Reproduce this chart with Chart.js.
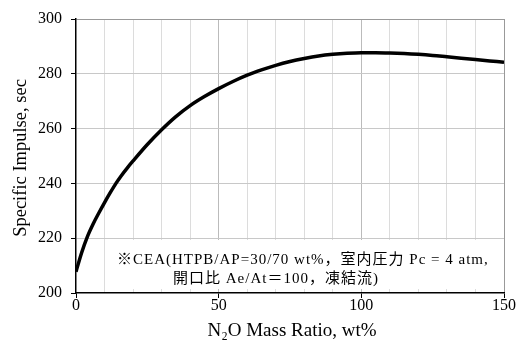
<!DOCTYPE html>
<html>
<head>
<meta charset="utf-8">
<script src="https://cdn.jsdelivr.net/npm/chart.js@4/dist/chart.umd.min.js"></script>
<style>
  html, body { margin: 0; padding: 0; background: #fff; }
  #wrap { width: 519px; height: 342px; }
</style>
</head>
<body>
<div id="wrap"><canvas id="c"></canvas></div>
<script>
// N2O mass ratio (wt%) vs specific impulse (sec)
const n2oRatio = [0, 2, 4, 6, 8, 10, 12, 14, 16, 18, 20, 25, 30, 35, 40, 45, 50, 55, 60, 65, 70, 75, 80, 85, 90, 95, 100, 105, 110, 115, 120, 125, 130, 135, 140, 145, 150];
const isp      = [207.8, 214.8, 220.6, 225.2, 229.2, 233.0, 236.6, 240.0, 243.0, 245.7, 248.2, 254.2, 259.6, 264.4, 268.4, 271.7, 274.6, 277.2, 279.5, 281.4, 283.1, 284.5, 285.6, 286.5, 287.1, 287.5, 287.7, 287.7, 287.6, 287.4, 287.1, 286.7, 286.2, 285.7, 285.2, 284.7, 284.2];
const xLabels = [0, 50, 100, 150];
const yTicks = [200, 220, 240, 260, 280, 300];
const xTitle = 'N₂O Mass Ratio, wt%';
const yTitle = 'Specific Impulse, sec';
const noteLines = ['※CEA(HTPB/AP=30/70 wt%，室内圧力 Pc = 4 atm,', '開口比 Ae/At＝100，凍結流)'];

const serif = '"Liberation Serif", "Times New Roman", "Noto Sans CJK JP", serif';

// 注記ボックス (白背景でグリッドを隠す)
const notePlugin = {
  id: 'note',
  beforeDatasetsDraw(chart) {
    const { ctx, chartArea: a } = chart;
    ctx.save();
    ctx.fillStyle = '#fff';
    ctx.fillRect(107, 240, a.right - 1.5 - 107, 49);
    ctx.fillStyle = '#000';
    ctx.font = '15px ' + serif;
    ctx.letterSpacing = '1px';
    ctx.textBaseline = 'middle';
    ctx.textAlign = 'left';
    ctx.fillText(noteLines[0], 117, 260.5);
    ctx.fillText(noteLines[1], 173, 279);
    ctx.restore();
  }
};

// 軸タイトル
const titlePlugin = {
  id: 'axisTitles',
  afterDraw(chart) {
    const { ctx, chartArea: a } = chart;
    ctx.save();
    ctx.fillStyle = '#000';
    ctx.textAlign = 'center';
    ctx.font = '19px ' + serif;
    ctx.textBaseline = 'middle';
    ctx.fillText(xTitle, (a.left + a.right) / 2 + 2, 331);
    ctx.translate(21, 158);
    ctx.rotate(-Math.PI / 2);
    ctx.font = '18.5px ' + serif;
    ctx.fillText(yTitle, 0, 0);
    ctx.restore();
  }
};

new Chart(document.getElementById('c'), {
  type: 'line',
  data: {
    datasets: [{
      data: n2oRatio.map((x, i) => ({ x, y: isp[i] })),
      borderColor: '#000',
      borderWidth: 3.5,
      pointRadius: 0,
      fill: false,
      cubicInterpolationMode: 'monotone'
    }]
  },
  options: {
    responsive: true,
    maintainAspectRatio: false,
    animation: false,
    events: [],
    layout: { padding: { top: 19, right: 15, left: 0, bottom: 0 } },
    plugins: { legend: { display: false }, tooltip: { enabled: false } },
    scales: {
      x: {
        type: 'linear', min: 0, max: 150,
        afterFit: s => { s.height = 49; },
        ticks: {
          stepSize: 10, autoSkip: false, maxRotation: 0, color: '#000', padding: -2,
          font: { family: serif, size: 16 },
          callback: v => xLabels.includes(v) ? String(v) : ''
        },
        grid: {
          tickLength: 5,
          lineWidth: 1,
          color: c => {
            const v = c.tick && c.tick.value;
            if (v === 0) return 'rgba(0,0,0,0)';
            if (v === 150) return '#999';
            if (v === 50 || v === 100) return '#bbb';
            return '#dcdcdc';
          },
          tickColor: c => xLabels.includes(c.tick && c.tick.value) ? '#000' : 'rgba(0,0,0,0)'
        },
        border: { color: '#000', width: 1.5 },
        title: { display: false }
      },
      y: {
        min: 200, max: 300,
        afterFit: s => { s.width = 76; },
        ticks: {
          stepSize: 20, color: '#000', padding: 9,
          font: { family: serif, size: 16 },
          callback: v => yTicks.includes(v) ? String(v) : ''
        },
        grid: {
          tickLength: 5,
          color: c => {
            const v = c.tick && c.tick.value;
            if (v === 200) return 'rgba(0,0,0,0)';
            if (v === 300) return '#999';
            return '#c8c8c8';
          },
          tickColor: '#000'
        },
        border: { color: '#000', width: 1.5 },
        title: { display: false }
      }
    }
  },
  plugins: [notePlugin, titlePlugin]
});
</script>
</body>
</html>
